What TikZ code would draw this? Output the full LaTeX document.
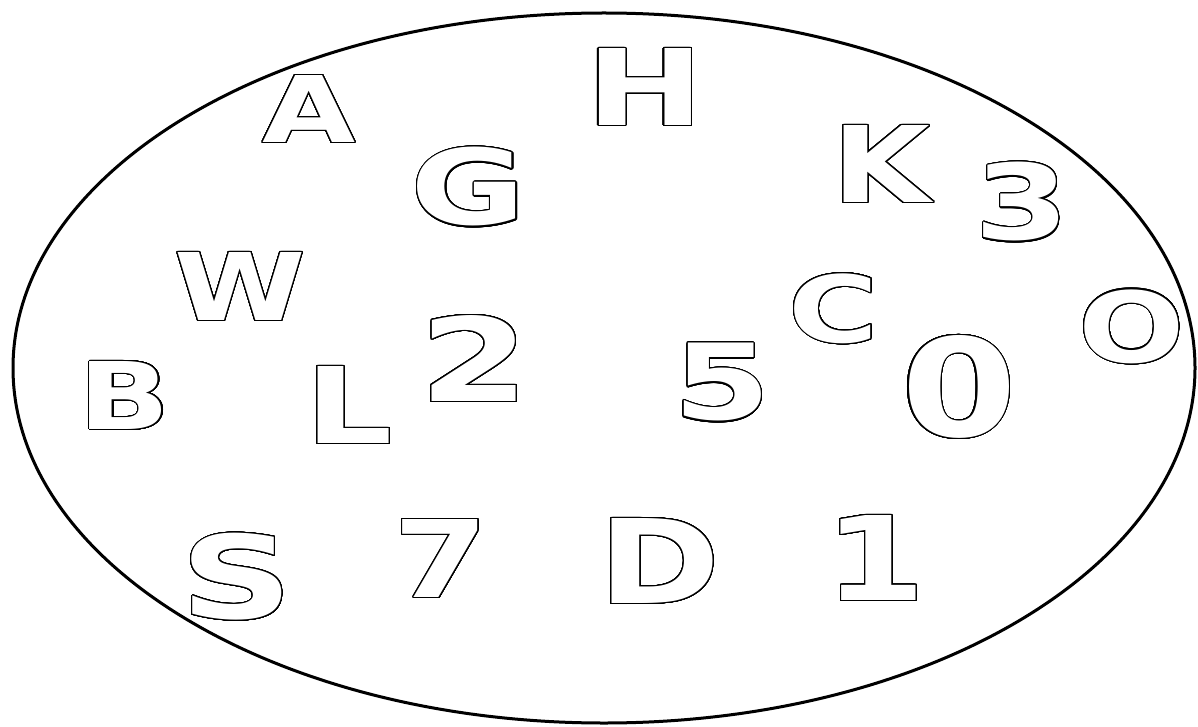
\documentclass[tikz,border=0pt]{standalone}
\usepackage{fontspec}
\usepackage{graphicx}
\usepackage{contour}
\newfontfamily\dvs{DejaVu Sans}
\contourlength{1.1pt}
\contournumber{48}
\DeclareRobustCommand\inkglyph[3]{\begingroup
  \dvs\bfseries
  \count255=\XeTeXcharglyph`#3\relax
  \dimen0=\XeTeXglyphbounds1 \count255\relax
  \dimen2=\XeTeXglyphbounds3 \count255\relax
  \setbox0\hbox{\kern-\dimen0 #3\kern-\dimen2}%
  \dimen4=\XeTeXglyphbounds2 \count255\relax
  \dimen6=\XeTeXglyphbounds4 \count255\relax
  \ifdim\dimen6<0pt \dimen6=-\dimen6 \fi
  \ht0=\dimen4 \dp0=\dimen6
  \resizebox*{#1pt}{#2pt}{\box0}%
\endgroup}
\newcommand\lt[3]{{\color{white}\contour{black}{\inkglyph{#1}{#2}{#3}}}}
\tikzset{glyph/.style={inner sep=0pt, outer sep=0pt, anchor=center}}
\begin{document}
\begin{tikzpicture}[x=1pt,y=-1pt]
\useasboundingbox (0,0) rectangle (1198,727);
\fill[white] (0,0) rectangle (1198,727);
\draw[line width=3pt] (604,368) ellipse [x radius=591, y radius=355];
\node[glyph] (A) at (309,109.5) {\lt{92}{67}{A}};
\node[glyph] (G) at (467,187.5) {\lt{98}{79}{G}};
\node[glyph] (H) at (645,87.5) {\lt{92}{77}{H}};
\node[glyph] (W) at (240,287) {\lt{124}{68}{W}};
\node[glyph] (B) at (126,396) {\lt{72}{68}{B}};
\node[glyph] (L) at (353.5,405.5) {\lt{71}{77}{L}};
\node[glyph] (two) at (474,359) {\lt{84}{86}{2}};
\node[glyph] (five) at (722.5,383) {\lt{77}{78}{5}};
\node[glyph] (K) at (889,164.5) {\lt{90}{77}{K}};
\node[glyph] (three) at (1021.5,202.5) {\lt{75}{79}{3}};
\node[glyph] (C) at (833,309) {\lt{76}{70}{C}};
\node[glyph] (zero) at (959,387.5) {\lt{100}{103}{0}};
\node[glyph] (O) at (1132,327) {\lt{94}{74}{O}};
\node[glyph] (S) at (237,577.5) {\lt{90}{87}{S}};
\node[glyph] (seven) at (440.5,559) {\lt{75}{78}{7}};
\node[glyph] (D) at (662.5,561.5) {\lt{101}{85}{D}};
\node[glyph] (one) at (878.5,558.5) {\lt{75}{85}{1}};
\end{tikzpicture}
\end{document}
